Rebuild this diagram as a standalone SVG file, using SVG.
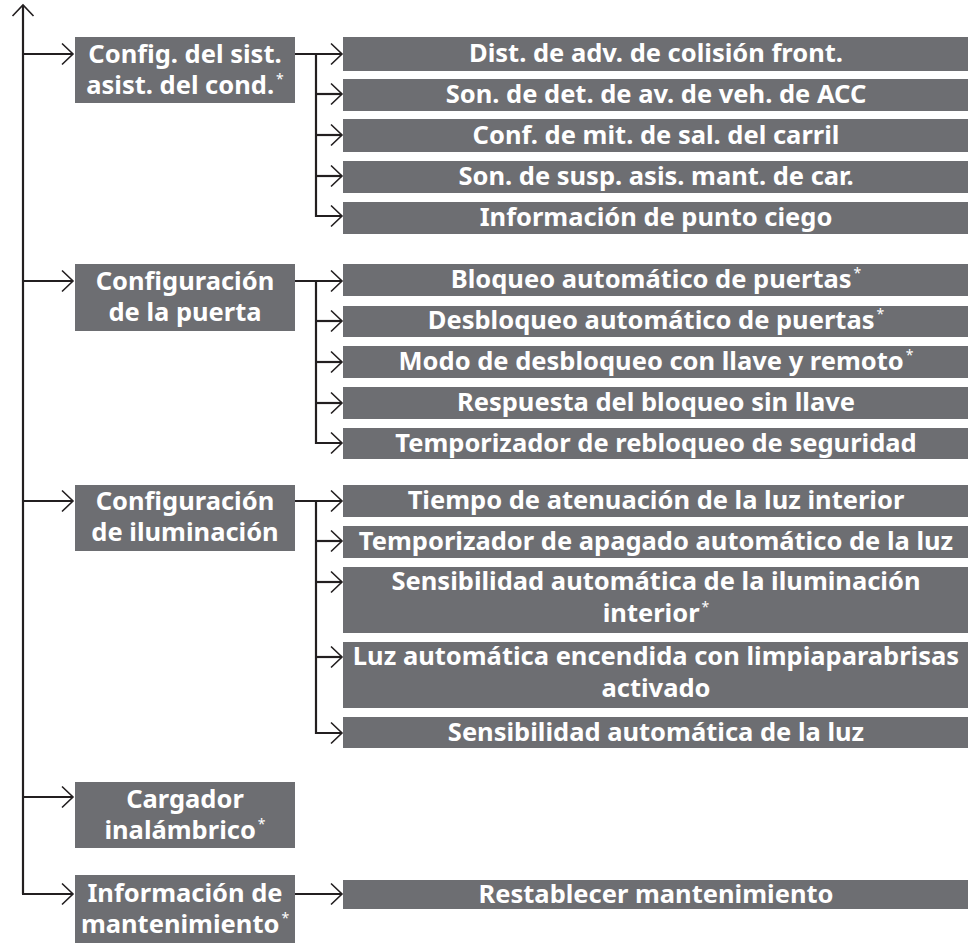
<svg xmlns="http://www.w3.org/2000/svg" width="968" height="943" viewBox="0 0 968 943">
<style>
.box{fill:#6d6e72}
.t{font-family:"Noto Sans","Open Sans","Liberation Sans",sans-serif;font-weight:bold;font-size:25.5px;fill:#ffffff;text-anchor:middle}
.ast{font-size:14px;font-weight:normal}
.c{fill:none;stroke:#231f20;stroke-width:2.2}
</style>
<defs>
<marker id="ah" markerUnits="userSpaceOnUse" viewBox="-14 -12 16 24" refX="0" refY="0" markerWidth="16" markerHeight="24" orient="auto" overflow="visible">
<path d="M-11,-10.5 L0,0 L-11,10.5" fill="none" stroke="#231f20" stroke-width="1.6"/>
</marker>
</defs>
<rect width="968" height="943" fill="#ffffff"/>
<g id="connectors">
<path class="c" d="M23,894 V5" marker-end="url(#ah)"/>
<path class="c" d="M23,54 H73" marker-end="url(#ah)"/>
<path class="c" d="M23,281 H73" marker-end="url(#ah)"/>
<path class="c" d="M23,501 H73" marker-end="url(#ah)"/>
<path class="c" d="M23,797 H73" marker-end="url(#ah)"/>
<path class="c" d="M22,894 H73" marker-end="url(#ah)"/>
<path class="c" d="M295,54 H342" marker-end="url(#ah)"/>
<path class="c" d="M316,54 V216 H342" marker-end="url(#ah)"/>
<path class="c" d="M316,94 H342" marker-end="url(#ah)"/>
<path class="c" d="M316,135 H342" marker-end="url(#ah)"/>
<path class="c" d="M316,176 H342" marker-end="url(#ah)"/>
<path class="c" d="M295,281 H342" marker-end="url(#ah)"/>
<path class="c" d="M316,281 V443 H342" marker-end="url(#ah)"/>
<path class="c" d="M316,321 H342" marker-end="url(#ah)"/>
<path class="c" d="M316,362 H342" marker-end="url(#ah)"/>
<path class="c" d="M316,403 H342" marker-end="url(#ah)"/>
<path class="c" d="M295,501 H342" marker-end="url(#ah)"/>
<path class="c" d="M316,501 V733 H342" marker-end="url(#ah)"/>
<path class="c" d="M316,541 H342" marker-end="url(#ah)"/>
<path class="c" d="M316,582 H342" marker-end="url(#ah)"/>
<path class="c" d="M316,657 H342" marker-end="url(#ah)"/>
<path class="c" d="M295,894 H342" marker-end="url(#ah)"/>
</g>
<g id="n-asist">
<rect class="box" x="75" y="37" width="220" height="66"/>
<text class="t" x="185" y="63">Config. del sist.</text>
<text class="t" x="185" y="94">asist. del cond.<tspan class="ast" dx="2" dy="-10">*</tspan></text>
</g>
<g id="n-puerta">
<rect class="box" x="75" y="264" width="220" height="67"/>
<text class="t" x="185" y="290">Configuración</text>
<text class="t" x="185" y="321">de la puerta</text>
</g>
<g id="n-ilum">
<rect class="box" x="75" y="485" width="220" height="66"/>
<text class="t" x="185" y="510">Configuración</text>
<text class="t" x="185" y="541">de iluminación</text>
</g>
<g id="n-cargador">
<rect class="box" x="75" y="782" width="220" height="66"/>
<text class="t" x="185" y="808">Cargador</text>
<text class="t" x="185" y="839">inalámbrico<tspan class="ast" dx="2" dy="-10">*</tspan></text>
</g>
<g id="n-mant">
<rect class="box" x="75" y="875" width="220" height="68"/>
<text class="t" x="185" y="902">Información de</text>
<text class="t" x="185" y="933">mantenimiento<tspan class="ast" dx="2" dy="-10">*</tspan></text>
</g>
<g id="c-dist">
<rect class="box" x="343" y="37" width="625" height="34"/>
<text class="t" x="656" y="62">Dist. de adv. de colisión front.</text>
</g>
<g id="c-son-acc">
<rect class="box" x="343" y="79" width="625" height="32"/>
<text class="t" x="656" y="103">Son. de det. de av. de veh. de ACC</text>
</g>
<g id="c-carril">
<rect class="box" x="343" y="119" width="625" height="33"/>
<text class="t" x="656" y="144">Conf. de mit. de sal. del carril</text>
</g>
<g id="c-susp">
<rect class="box" x="343" y="161" width="625" height="32"/>
<text class="t" x="656" y="185">Son. de susp. asis. mant. de car.</text>
</g>
<g id="c-ciego">
<rect class="box" x="343" y="202" width="625" height="32"/>
<text class="t" x="656" y="226">Información de punto ciego</text>
</g>
<g id="c-bloq">
<rect class="box" x="343" y="264" width="625" height="32"/>
<text class="t" x="656" y="288">Bloqueo automático de puertas<tspan class="ast" dx="2" dy="-10">*</tspan></text>
</g>
<g id="c-desbloq">
<rect class="box" x="343" y="306" width="625" height="31"/>
<text class="t" x="656" y="329">Desbloqueo automático de puertas<tspan class="ast" dx="2" dy="-10">*</tspan></text>
</g>
<g id="c-modo">
<rect class="box" x="343" y="346" width="625" height="32"/>
<text class="t" x="656" y="370">Modo de desbloqueo con llave y remoto<tspan class="ast" dx="2" dy="-10">*</tspan></text>
</g>
<g id="c-resp">
<rect class="box" x="343" y="387" width="625" height="32"/>
<text class="t" x="656" y="411">Respuesta del bloqueo sin llave</text>
</g>
<g id="c-rebloq">
<rect class="box" x="343" y="428" width="625" height="31"/>
<text class="t" x="656" y="452">Temporizador de rebloqueo de seguridad</text>
</g>
<g id="c-atenu">
<rect class="box" x="343" y="485" width="625" height="32"/>
<text class="t" x="656" y="509">Tiempo de atenuación de la luz interior</text>
</g>
<g id="c-apag">
<rect class="box" x="343" y="526" width="625" height="32"/>
<text class="t" x="656" y="550">Temporizador de apagado automático de la luz</text>
</g>
<g id="c-sens-int">
<rect class="box" x="343" y="567" width="625" height="66"/>
<text class="t" x="656" y="590">Sensibilidad automática de la iluminación</text>
<text class="t" x="656" y="622">interior<tspan class="ast" dx="2" dy="-10">*</tspan></text>
</g>
<g id="c-limp">
<rect class="box" x="343" y="642" width="625" height="66"/>
<text class="t" x="656" y="665">Luz automática encendida con limpiaparabrisas</text>
<text class="t" x="656" y="697">activado</text>
</g>
<g id="c-sens-luz">
<rect class="box" x="343" y="717" width="625" height="31"/>
<text class="t" x="656" y="741">Sensibilidad automática de la luz</text>
</g>
<g id="c-restab">
<rect class="box" x="343" y="880" width="625" height="29"/>
<text class="t" x="656" y="903">Restablecer mantenimiento</text>
</g>
</svg>
